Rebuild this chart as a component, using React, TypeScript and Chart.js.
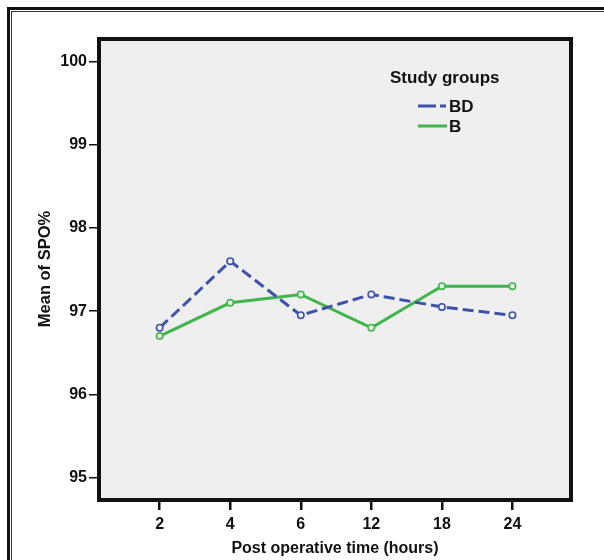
import React, { useEffect, useRef } from "react";
import { Chart, registerables } from "chart.js";

Chart.register(...registerables);

const categories = ["2", "4", "6", "12", "18", "24"];
const seriesNames = ["BD", "B"];
const bdValues = [96.8, 97.6, 96.95, 97.2, 97.05, 96.95];
const bValues = [96.7, 97.1, 97.2, 96.8, 97.3, 97.3];
const yTickValues = [95, 96, 97, 98, 99, 100];
const legendTitle = "Study groups";
const xTitle = "Post operative time (hours)";
const yTitle = "Mean of SPO%";

const BLUE = "#3d52a8";
const GREEN = "#3fb54b";
const FONT = "'Liberation Sans', Arial, sans-serif";

const decorPlugin = {
  id: "decor",
  beforeDraw(chart: any) {
    const { ctx, chartArea: a } = chart;
    ctx.save();
    ctx.fillStyle = "#ffffff";
    ctx.fillRect(0, 0, chart.width, chart.height);
    // outer double frame (top & left visible)
    ctx.fillStyle = "#111";
    ctx.fillRect(7, 7, chart.width, 3);
    ctx.fillRect(7, 7, 3, chart.height);
    ctx.fillStyle = "#333";
    ctx.fillRect(11, 11, chart.width, 1);
    ctx.fillRect(11, 11, 1, chart.height);
    // plot background
    ctx.fillStyle = "#efefef";
    ctx.fillRect(a.left, a.top, a.right - a.left, a.bottom - a.top);
    ctx.restore();
  },
  afterDraw(chart: any) {
    const { ctx, chartArea: a } = chart;
    ctx.save();
    ctx.strokeStyle = "#111";
    ctx.lineWidth = 4;
    ctx.strokeRect(a.left, a.top, a.right - a.left, a.bottom - a.top);

    ctx.fillStyle = "#111";
    ctx.font = `bold 16px ${FONT}`;
    ctx.textAlign = "center";
    ctx.textBaseline = "middle";
    ctx.fillText(xTitle, (a.left + a.right) / 2, 549);

    ctx.save();
    ctx.translate(45, 269);
    ctx.rotate(-Math.PI / 2);
    ctx.font = `bold 16.5px ${FONT}`;
    ctx.fillText(yTitle, 0, 0);
    ctx.restore();

    // legend
    ctx.textAlign = "left";
    ctx.font = `bold 17px ${FONT}`;
    ctx.fillText(legendTitle, 390, 78);
    chart.data.datasets.forEach((ds: any, i: number) => {
      const y = 106 + i * 20;
      ctx.save();
      ctx.strokeStyle = ds.borderColor;
      ctx.lineWidth = 3;
      ctx.setLineDash(ds.borderDash ? [18, 4, 6, 4] : []);
      ctx.beginPath();
      ctx.moveTo(418, y);
      ctx.lineTo(447, y);
      ctx.stroke();
      ctx.restore();
      ctx.fillStyle = "#111";
      ctx.fillText(ds.label, 449, y + 1);
    });
    ctx.restore();
  },
};

export default function App() {
  const ref = useRef<HTMLCanvasElement | null>(null);
  useEffect(() => {
    document.body.style.margin = "0";
    document.body.style.overflow = "hidden";
    if (!ref.current) return;
    const mk = (vals: number[]) => vals.map((v, i) => ({ x: i, y: v }));
    const chart = new Chart(ref.current, {
      type: "line",
      data: {
        datasets: [
          {
            label: seriesNames[0],
            data: mk(bdValues),
            borderColor: BLUE,
            borderWidth: 3,
            borderDash: [11, 5],
            pointRadius: 3.2,
            pointBorderWidth: 1.6,
            pointBackgroundColor: "#efefef",
            pointBorderColor: BLUE,
            tension: 0,
          },
          {
            label: seriesNames[1],
            data: mk(bValues),
            borderColor: GREEN,
            borderWidth: 3,
            pointRadius: 3.2,
            pointBorderWidth: 1.6,
            pointBackgroundColor: "#efefef",
            pointBorderColor: GREEN,
            tension: 0,
          },
        ],
      },
      options: {
        responsive: false,
        animation: false,
        devicePixelRatio: 1,
        layout: { padding: { left: 39, right: 33, top: 39, bottom: 0 } },
        plugins: { legend: { display: false }, tooltip: { enabled: false } },
        scales: {
          x: {
            type: "linear",
            min: -0.86,
            max: 5.83,
            afterBuildTicks: (axis: any) => {
              axis.ticks = categories.map((_, i) => ({ value: i }));
            },
            afterFit: (s: any) => {
              s.height = 60;
            },
            border: { display: false },
            grid: {
              drawOnChartArea: false,
              drawTicks: true,
              tickLength: 10,
              color: "#111",
              lineWidth: 2.5,
            },
            ticks: {
              autoSkip: false,
              maxRotation: 0,
              includeBounds: false,
              padding: 5,
              color: "#111",
              font: { family: FONT, size: 16, weight: "bold" },
              callback: (v: any) => categories[v as number] ?? "",
            },
          },
          y: {
            type: "linear",
            min: 94.73,
            max: 100.27,
            afterBuildTicks: (axis: any) => {
              axis.ticks = yTickValues.map((v) => ({ value: v }));
            },
            afterFit: (s: any) => {
              s.width = 60;
            },
            border: { display: false },
            grid: {
              drawOnChartArea: false,
              drawTicks: true,
              tickLength: 10,
              color: "#111",
              lineWidth: 1.5,
            },
            ticks: {
              includeBounds: false,
              padding: 2,
              color: "#111",
              font: { family: FONT, size: 16, weight: "bold" },
            },
          },
        },
      },
      plugins: [decorPlugin],
    });
    return () => chart.destroy();
  }, []);
  return (
    <div style={{ position: "relative", width: 604, height: 560 }}>
      <canvas ref={ref} width={604} height={560} style={{ display: "block", width: 604, height: 560 }} />
    </div>
  );
}
